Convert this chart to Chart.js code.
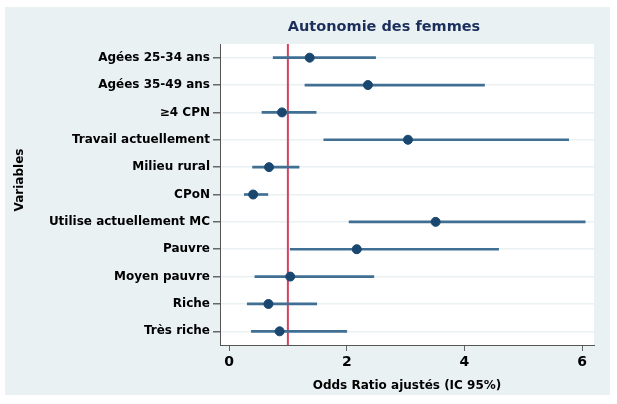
<!DOCTYPE html>
<html>
<head>
<meta charset="utf-8">
<script src="https://cdn.jsdelivr.net/npm/chart.js@4"></script>
<style>
  html, body { margin: 0; padding: 0; background: #fff; }
  #wrap { width: 617px; height: 404px; }
</style>
</head>
<body>
<div id="wrap"><canvas id="forest"></canvas></div>
<script>
// données
const variables = ['Agées 25-34 ans', 'Agées 35-49 ans', '≥4 CPN', 'Travail actuellement', 'Milieu rural',
    'CPoN', 'Utilise actuellement MC', 'Pauvre', 'Moyen pauvre', 'Riche', 'Très riche'];
const oddsRatio = [1.37, 2.36, 0.90, 3.04, 0.68, 0.41, 3.51, 2.17, 1.04, 0.67, 0.86];
const ciLow = [0.75, 1.29, 0.56, 1.61, 0.40, 0.26, 2.04, 1.04, 0.44, 0.31, 0.38];
const ciHigh = [2.49, 4.34, 1.48, 5.77, 1.19, 0.66, 6.05, 4.58, 2.46, 1.49, 2.00];
const xTicks = [0, 2, 4, 6];
const refValue = 1;

const font = 'DejaVu Sans, Liberation Sans, sans-serif';

// fond du panneau + zone blanche du graphique
const panelBg = {
    id: 'panelBg',
    beforeDraw(chart) {
        const { ctx, chartArea: a } = chart;
        ctx.save();
        ctx.fillStyle = '#eaf1f3';
        ctx.fillRect(5, 7, 605, 388);
        ctx.fillStyle = '#ffffff';
        ctx.fillRect(a.left, a.top, a.right - a.left, a.bottom - a.top);
        ctx.restore();
    }
};

// ligne de référence OR = 1
const refLine = {
    id: 'refLine',
    beforeDatasetsDraw(chart) {
        const { ctx, chartArea: a, scales } = chart;
        const x = scales.x.getPixelForValue(refValue);
        ctx.save();
        ctx.strokeStyle = '#d4435e';
        ctx.lineWidth = 2;
        ctx.beginPath();
        ctx.moveTo(x, a.top);
        ctx.lineTo(x, a.bottom);
        ctx.stroke();
        ctx.restore();
    }
};

// titre et titre de l'axe vertical
const labels = {
    id: 'labels',
    afterDraw(chart) {
        const { ctx } = chart;
        ctx.save();
        ctx.fillStyle = '#1c2f5c';
        ctx.font = 'bold 14.5px ' + font;
        ctx.textAlign = 'center';
        ctx.textBaseline = 'middle';
        ctx.fillText('Autonomie des femmes', 384, 27);
        ctx.fillStyle = '#000';
        ctx.font = 'bold 12px ' + font;
        ctx.translate(20, 180);
        ctx.rotate(-Math.PI / 2);
        ctx.fillText('Variables', 0, 0);
        ctx.restore();
    }
};

new Chart(document.getElementById('forest'), {
    type: 'bar',
    data: {
        labels: variables,
        datasets: [
            {
                type: 'scatter',
                data: variables.map((v, i) => ({ x: oddsRatio[i], y: v })),
                backgroundColor: '#1a476f',
                borderColor: '#1a476f',
                pointRadius: 4.5,
                pointHoverRadius: 4.5,
                order: 0
            },
            {
                type: 'bar',
                data: variables.map((v, i) => [ciLow[i], ciHigh[i]]),
                backgroundColor: '#416f94',
                barThickness: 2,
                order: 1
            }
        ]
    },
    options: {
        indexAxis: 'y',
        responsive: true,
        maintainAspectRatio: false,
        animation: false,
        layout: { padding: { top: 44, right: 23, left: 0, bottom: 0 } },
        plugins: { legend: { display: false }, tooltip: { enabled: false } },
        scales: {
            x: {
                type: 'linear',
                min: -0.153,
                max: 6.2,
                afterBuildTicks: scale => { scale.ticks = xTicks.map(v => ({ value: v })); },
                afterFit: scale => { scale.height = 59; },
                grid: { drawOnChartArea: false, tickLength: 6, tickColor: '#666' },
                border: { color: '#555', width: 1 },
                ticks: { color: '#000', font: { family: font, size: 14, weight: 'bold' }, padding: 3, maxRotation: 0 },
                title: { display: true, text: 'Odds Ratio ajustés (IC 95%)', color: '#000',
                    font: { family: font, size: 12, weight: 'bold' }, padding: { top: 2, bottom: 11 } }
            },
            y: {
                type: 'category',
                offset: true,
                afterFit: scale => { scale.width = 220; },
                grid: { color: '#e9f1f3', lineWidth: 1.5, tickLength: 7, tickColor: '#666', offset: false },
                border: { color: '#555', width: 1 },
                ticks: { color: '#000', font: { family: font, size: 12, weight: 'bold' }, padding: 3, autoSkip: false }
            }
        }
    },
    plugins: [panelBg, refLine, labels]
});
</script>
</body>
</html>
